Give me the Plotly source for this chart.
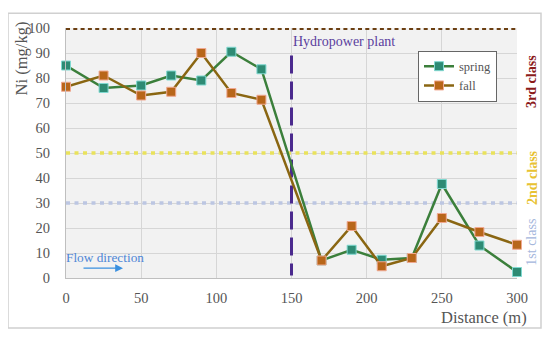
import plotly.graph_objects as go

distance = [0, 25, 50, 70, 90, 110, 130, 170, 190, 210, 230, 250, 275, 300]
spring = [85, 76, 77, 81, 79, 90.5, 83.5, 7, 11.3, 7.3, 8, 37.6, 13, 2.4]
fall = [76.5, 81, 73, 74.5, 90, 74, 71.3, 7, 20.8, 4.7, 8, 24, 18.4, 13.3]
class_limits = [100, 50, 30]
class_labels = ["3rd class", "2nd class", "1st class"]
plant_distance = 150

FONT = "Liberation Serif"
OFF = 8  # page body margin in the browser
W, H = 550 - OFF, 337 - OFF
L, R, T, B = 66 - OFF, 33, 23 - OFF, 59
pw, ph = W - L - R, H - T - B

def px(xp):
    return (xp - OFF - L) / pw

def py(yp):
    return (H - B - (yp - OFF)) / ph

fig = go.Figure()

# class threshold lines
lim_styles = [("#6b3f12", 4, "4px,3.3px"), ("#e9e25c", 3.5, "4px,4.5px"),
              ("#bcc6e2", 3.5, "4px,4.5px")]
for v, (c, w, d) in zip(class_limits, lim_styles):
    fig.add_trace(go.Scatter(x=[0, 300], y=[v, v], mode="lines",
                             line=dict(color=c, width=w, dash=d),
                             showlegend=False, hoverinfo="skip", cliponaxis=False))

# hydropower plant line
fig.add_trace(go.Scatter(x=[plant_distance, plant_distance], y=[89, 1], mode="lines",
                         line=dict(color="#4b2a8e", width=3, dash="18px,8px"),
                         showlegend=False, hoverinfo="skip"))

fig.add_trace(go.Scatter(x=distance, y=spring, mode="lines+markers", name="spring",
                         line=dict(color="#3b7f3b", width=2.5),
                         marker=dict(symbol="square", size=9, color="#2e8b74",
                                     line=dict(color="#7fd8d0", width=1)),
                         cliponaxis=False))
fig.add_trace(go.Scatter(x=distance, y=fall, mode="lines+markers", name="fall",
                         line=dict(color="#8a6612", width=2.5),
                         marker=dict(symbol="square", size=9, color="#b8661a",
                                     line=dict(color="#f0a890", width=1)),
                         cliponaxis=False))

annotations = [
    dict(x=px(291), y=py(37), xref="paper", yref="paper", text="Hydropower plant",
         showarrow=False, xanchor="left", yanchor="middle",
         font=dict(family=FONT, size=14, color="#5b3f9e")),
    dict(x=px(64), y=py(257), xref="paper", yref="paper", text="Flow direction",
         showarrow=False, xanchor="left", yanchor="middle",
         font=dict(family=FONT, size=13.3, color="#4f86d6")),
    dict(x=px(123), y=py(268), ax=px(82), ay=py(268), xref="x domain", yref="y domain",
         axref="x domain", ayref="y domain", text="", showarrow=True, arrowhead=2,
         arrowsize=1.2, arrowwidth=1.3, arrowcolor="#3a90e0"),
    dict(x=px(484), y=py(318.5), xref="paper", yref="paper", text="Distance (m)",
         showarrow=False, xanchor="center", yanchor="middle",
         font=dict(family=FONT, size=16.5, color="#555555")),
    dict(x=px(21), y=py(54), xref="paper", yref="paper", text="Ni (mg/kg)",
         showarrow=False, textangle=-90, xanchor="center", yanchor="middle",
         font=dict(family=FONT, size=16.5, color="#555555")),
]
label_pos = [(78, "#8b1a1a", True), (176, "#e8c232", True), (242, "#a4b6dc", False)]
for lab, (ypos, col, bold) in zip(class_labels, label_pos):
    annotations.append(dict(x=px(532), y=py(ypos), xref="paper", yref="paper",
                            text=f"<b>{lab}</b>" if bold else lab,
                            showarrow=False, textangle=-90, xanchor="center", yanchor="middle",
                            font=dict(family=FONT, size=14, color=col)))

fig.update_layout(
    width=W, height=H,
    margin=dict(l=L, r=R, t=T, b=B),
    paper_bgcolor="white", plot_bgcolor="#f2f2f2",
    font=dict(family=FONT, size=14, color="#555555"),
    xaxis=dict(range=[0, 300], tickvals=[0, 50, 100, 150, 200, 250, 300],
               showgrid=True, gridcolor="#d6d6d6", gridwidth=1, zeroline=False,
               showline=True, linecolor="#bfbfbf", ticks="", ticklabelstandoff=7,
               tickfont=dict(family=FONT, size=14.5, color="#555555")),
    yaxis=dict(range=[0, 100], tickvals=list(range(0, 101, 10)),
               showgrid=True, gridcolor="#d6d6d6", gridwidth=1, zeroline=False,
               showline=True, linecolor="#bfbfbf", ticks="", ticklabelstandoff=12,
               tickfont=dict(family=FONT, size=14.5, color="#555555")),
    legend=dict(x=px(418), y=py(46), xanchor="left", yanchor="top",
                bgcolor="white", bordercolor="#666666", borderwidth=1,
                font=dict(family=FONT, size=12.5, color="#555555"),
                itemwidth=30, tracegroupgap=0),
    annotations=annotations,
    shapes=[dict(type="rect", xref="paper", yref="paper",
                 x0=px(8), x1=px(541), y0=py(329), y1=py(8),
                 line=dict(color="#d0d0d0", width=1.5), layer="below")],
    showlegend=True,
)

fig.write_html("out.html")
